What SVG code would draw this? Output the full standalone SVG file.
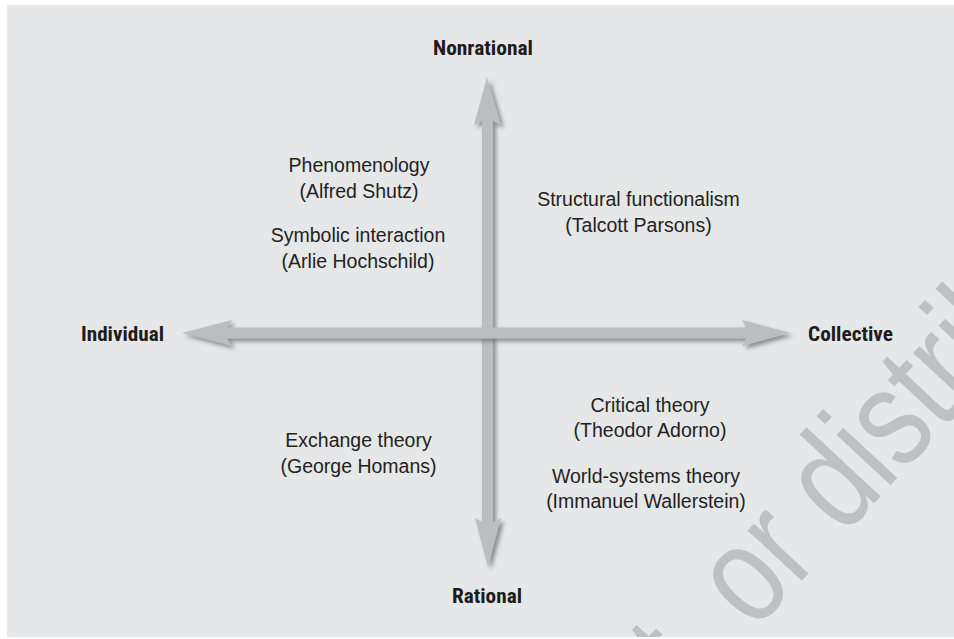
<svg xmlns="http://www.w3.org/2000/svg" width="954" height="639" viewBox="0 0 954 639">
  <defs>
    <filter id="shadow" x="-20%" y="-20%" width="140%" height="140%">
      <feGaussianBlur in="SourceAlpha" stdDeviation="2.2"/>
      <feOffset dx="3" dy="3" result="b"/>
      <feFlood flood-color="#6d6e70" flood-opacity="0.75"/>
      <feComposite in2="b" operator="in" result="s"/>
      <feMerge><feMergeNode in="s"/><feMergeNode in="SourceGraphic"/></feMerge>
    </filter>
    <clipPath id="panel"><rect x="7" y="5" width="947" height="632"/></clipPath>
    <style>
      .axis { font-family: "Liberation Sans Narrow", "Roboto Condensed", "DejaVu Sans Condensed", "Liberation Sans", sans-serif; font-weight: bold; font-size: 21px; fill: #1e1b1c; text-anchor: middle; }
      .lbl { font-family: "Liberation Sans", Arial, sans-serif; font-size: 19.5px; fill: #231f20; text-anchor: middle; }
      .arrow { fill: #bcbdc0; filter: url(#shadow); }
      .wm { font-family: "Liberation Sans", Arial, sans-serif; font-size: 140px; fill: #bfc0c2; }
    </style>
  </defs>

  <rect x="7" y="5" width="947" height="632" fill="#e6e7e8"/>

  <g id="watermark" clip-path="url(#panel)">
    <text class="wm" transform="translate(754,632) rotate(-47) scale(0.8,1)"><tspan x="-39" text-anchor="end">Do not copy, post,</tspan><tspan x="0" text-anchor="start">or distribute</tspan></text>
  </g>

  <g id="connectors">
    <polygon class="arrow" points="487,77 501,125 493,121 493,522 501,518 488,567 475,518 482,522 482,121 474,125"/>
    <polygon class="arrow" points="182,333 232,320 227,327.5 746,327.5 742,320 790,333 742,346 746,338.5 227,338.5 232,346"/>
  </g>

  <g id="node-nonrational"><text class="axis" x="483" y="55" textLength="100" lengthAdjust="spacingAndGlyphs">Nonrational</text></g>
  <g id="node-rational"><text class="axis" x="487" y="603" textLength="70" lengthAdjust="spacingAndGlyphs">Rational</text></g>
  <g id="node-individual"><text class="axis" x="122.5" y="341" textLength="83" lengthAdjust="spacingAndGlyphs">Individual</text></g>
  <g id="node-collective"><text class="axis" x="850.5" y="341" textLength="85" lengthAdjust="spacingAndGlyphs">Collective</text></g>

  <g id="node-phenomenology">
    <text class="lbl" x="359" y="172">Phenomenology</text>
    <text class="lbl" x="359" y="198">(Alfred Shutz)</text>
  </g>
  <g id="node-symbolic-interaction">
    <text class="lbl" x="358" y="242">Symbolic interaction</text>
    <text class="lbl" x="358" y="268">(Arlie Hochschild)</text>
  </g>
  <g id="node-structural-functionalism">
    <text class="lbl" x="638.5" y="206">Structural functionalism</text>
    <text class="lbl" x="638.5" y="232">(Talcott Parsons)</text>
  </g>
  <g id="node-exchange-theory">
    <text class="lbl" x="358.5" y="447">Exchange theory</text>
    <text class="lbl" x="358.5" y="473">(George Homans)</text>
  </g>
  <g id="node-critical-theory">
    <text class="lbl" x="650" y="412">Critical theory</text>
    <text class="lbl" x="650" y="437">(Theodor Adorno)</text>
  </g>
  <g id="node-world-systems">
    <text class="lbl" x="646" y="483">World-systems theory</text>
    <text class="lbl" x="646" y="508">(Immanuel Wallerstein)</text>
  </g>
</svg>
